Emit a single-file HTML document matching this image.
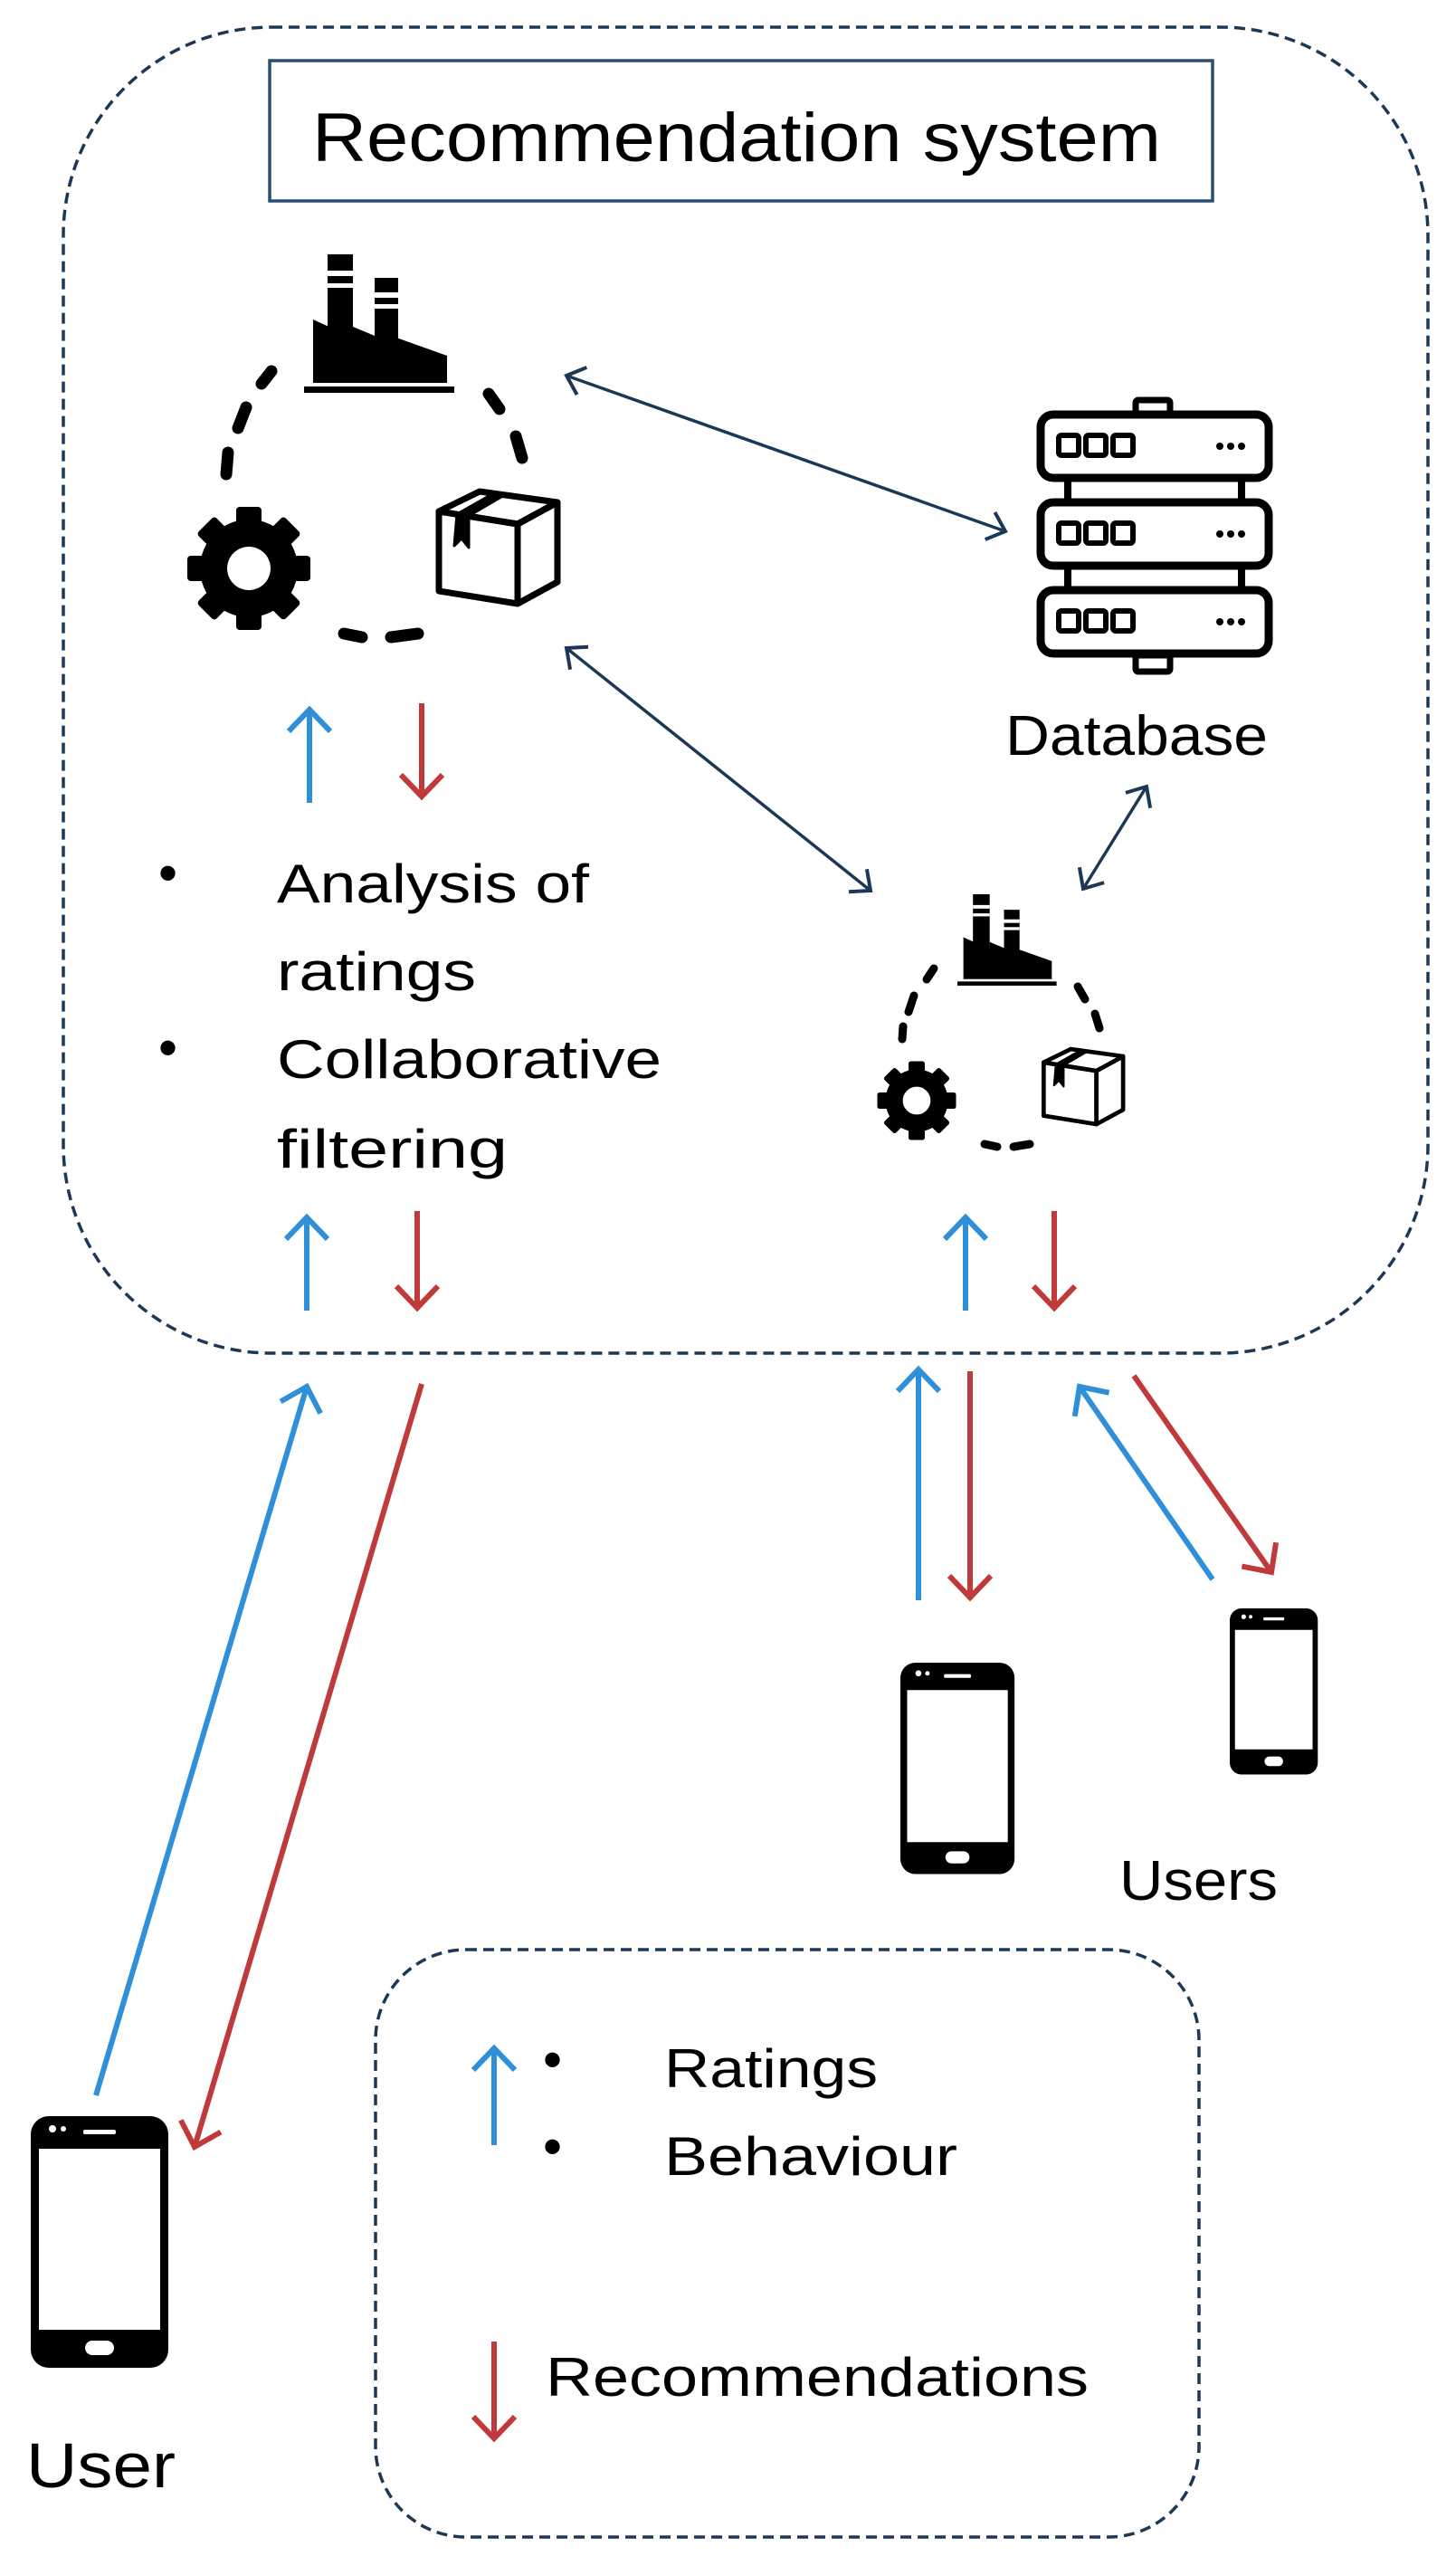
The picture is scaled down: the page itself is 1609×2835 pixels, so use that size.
<!DOCTYPE html>
<html><head><meta charset="utf-8"><style>
html,body{margin:0;padding:0;background:#fff;}
svg{display:block;}
text{font-family:"Liberation Sans",sans-serif;fill:#000;}
</style></head><body>
<svg width="1609" height="2835" viewBox="0 0 1609 2835" xmlns="http://www.w3.org/2000/svg">
<defs>
<marker id="hb" markerUnits="userSpaceOnUse" markerWidth="54" markerHeight="54" refX="26" refY="27" orient="auto-start-reverse" viewBox="0 0 54 54"><path d="M2,4 L26,27 L2,50" fill="none" stroke="#2f8fd8" stroke-width="6"/></marker>
<marker id="hr" markerUnits="userSpaceOnUse" markerWidth="54" markerHeight="54" refX="26" refY="27" orient="auto-start-reverse" viewBox="0 0 54 54"><path d="M2,4 L26,27 L2,50" fill="none" stroke="#c0393b" stroke-width="6"/></marker>
<marker id="hn" markerUnits="userSpaceOnUse" markerWidth="44" markerHeight="44" refX="22" refY="22" orient="auto-start-reverse" viewBox="0 0 44 44"><path d="M4,6 L22,22 L4,38" fill="none" stroke="#1c3857" stroke-width="4"/></marker>
<g id="gear">
  <g fill="#000">
    <rect x="-14" y="-68" width="28" height="136" rx="4"/>
    <rect x="-14" y="-68" width="28" height="136" rx="4" transform="rotate(45)"/>
    <rect x="-14" y="-68" width="28" height="136" rx="4" transform="rotate(90)"/>
    <rect x="-14" y="-68" width="28" height="136" rx="4" transform="rotate(135)"/>
    <circle r="54"/>
  </g>
  <circle r="24" fill="#fff"/>
</g>
<g id="factory">
  <rect x="20" y="0" width="28" height="120" fill="#000"/>
  <rect x="20" y="18" width="28" height="6" fill="#fff"/>
  <rect x="20" y="32" width="28" height="5" fill="#fff"/>
  <rect x="72" y="26" width="26" height="100" fill="#000"/>
  <rect x="72" y="42" width="26" height="6" fill="#fff"/>
  <rect x="72" y="55" width="26" height="5" fill="#fff"/>
  <polygon points="4,72 48,92 48,80 96,100 96,92 152,112 152,142 4,142" fill="#000"/>
  <rect x="-6" y="146" width="166" height="7" fill="#000"/>
</g>
<g id="box" fill="none" stroke="#000" stroke-width="7" stroke-linejoin="round">
  <polygon points="5,28 92,42 92,130 5,116"/>
  <polygon points="5,28 50,6 136,18 92,42"/>
  <polygon points="92,42 136,18 136,106 92,130"/>
  <polygon points="25,31 62,10 74,12 38,33 38,68 30,58 22,66" fill="#000" stroke-width="3"/>
</g>
<g id="phone">
  <rect x="0" y="0" width="152" height="278" rx="20" fill="#000"/>
  <rect x="9" y="36" width="134" height="200" fill="#fff"/>
  <rect x="58" y="15" width="36" height="5" rx="2" fill="#fff"/>
  <circle cx="24" cy="14" r="4" fill="#fff"/><circle cx="36" cy="14" r="3" fill="#fff"/>
  <rect x="60" y="248" width="32" height="16" rx="8" fill="#fff"/>
</g>
<g id="unit">
  <rect x="0" y="0" width="252" height="70" rx="14" fill="#fff" stroke="#000" stroke-width="9"/>
  <rect x="20" y="23" width="22" height="22" rx="3" fill="none" stroke="#000" stroke-width="6"/>
  <rect x="50" y="23" width="22" height="22" rx="3" fill="none" stroke="#000" stroke-width="6"/>
  <rect x="80" y="23" width="22" height="22" rx="3" fill="none" stroke="#000" stroke-width="6"/>
  <circle cx="198" cy="35" r="4"/><circle cx="210" cy="35" r="4"/><circle cx="222" cy="35" r="4"/>
</g>
</defs>

<rect x="70" y="30" width="1508" height="1465" rx="230" fill="none" stroke="#1c3857" stroke-width="3.5" stroke-dasharray="12,7"/>
<rect x="298" y="67" width="1042" height="155" fill="#fff" stroke="#2a4f73" stroke-width="3.5"/>
<text x="345" y="178" font-size="76" textLength="938" lengthAdjust="spacingAndGlyphs">Recommendation  system</text>

<use href="#factory" transform="translate(342,281)"/>
<use href="#gear" transform="translate(275,628) scale(1)"/>
<use href="#box" transform="translate(480,537)"/>
<g stroke="#000" stroke-width="13" stroke-linecap="round" fill="none">
  <line x1="300" y1="410" x2="289" y2="424"/>
  <line x1="272" y1="450" x2="263" y2="473"/>
  <line x1="252" y1="500" x2="250" y2="524"/>
  <line x1="540" y1="435" x2="552" y2="452"/>
  <line x1="570" y1="482" x2="577" y2="506"/>
  <line x1="380" y1="700" x2="400" y2="704"/>
  <line x1="432" y1="704" x2="462" y2="700"/>
</g>

<rect x="1255" y="442" width="38" height="18" rx="3" fill="none" stroke="#000" stroke-width="7"/>
<rect x="1255" y="724" width="38" height="18" rx="3" fill="none" stroke="#000" stroke-width="7"/>
<rect x="1180" y="520" width="192" height="40" fill="none" stroke="#000" stroke-width="8"/>
<rect x="1180" y="616" width="192" height="40" fill="none" stroke="#000" stroke-width="8"/>
<use href="#unit" transform="translate(1150,458)"/>
<use href="#unit" transform="translate(1150,555)"/>
<use href="#unit" transform="translate(1150,652)"/>
<text x="1111" y="834" font-size="62" textLength="290" lengthAdjust="spacingAndGlyphs">Database</text>

<line x1="626" y1="415" x2="1111" y2="587" stroke="#1c3857" stroke-width="3.5" marker-start="url(#hn)" marker-end="url(#hn)"/>
<line x1="626" y1="716" x2="962" y2="984" stroke="#1c3857" stroke-width="3.5" marker-start="url(#hn)" marker-end="url(#hn)"/>
<line x1="1267" y1="869" x2="1197" y2="982" stroke="#1c3857" stroke-width="3.5" marker-start="url(#hn)" marker-end="url(#hn)"/>

<use href="#factory" transform="translate(1062,988) scale(0.66)"/>
<use href="#gear" transform="translate(1013,1216) scale(0.64)"/>
<use href="#box" transform="translate(1150,1155) scale(0.67)"/>
<g stroke="#000" stroke-width="9" stroke-linecap="round" fill="none">
  <line x1="1032" y1="1070" x2="1024" y2="1082"/>
  <line x1="1010" y1="1100" x2="1004" y2="1118"/>
  <line x1="998" y1="1134" x2="997" y2="1148"/>
  <line x1="1191" y1="1090" x2="1199" y2="1104"/>
  <line x1="1210" y1="1120" x2="1215" y2="1136"/>
  <line x1="1088" y1="1264" x2="1102" y2="1267"/>
  <line x1="1120" y1="1267" x2="1138" y2="1264"/>
</g>

<text x="175" y="985" font-size="60">•</text>
<text x="306" y="997" font-size="60" textLength="345" lengthAdjust="spacingAndGlyphs">Analysis of</text>
<text x="306" y="1094" font-size="60" textLength="220" lengthAdjust="spacingAndGlyphs">ratings</text>
<text x="175" y="1178" font-size="60">•</text>
<text x="306" y="1191" font-size="60" textLength="425" lengthAdjust="spacingAndGlyphs">Collaborative</text>
<text x="306" y="1290" font-size="60" textLength="255" lengthAdjust="spacingAndGlyphs">filtering</text>

<g stroke-width="6" fill="none">
  <line x1="342" y1="887" x2="342" y2="784" stroke="#2f8fd8" marker-end="url(#hb)"/>
  <line x1="466" y1="777" x2="466" y2="880" stroke="#c0393b" marker-end="url(#hr)"/>
  <line x1="339" y1="1448" x2="339" y2="1345" stroke="#2f8fd8" marker-end="url(#hb)"/>
  <line x1="461" y1="1338" x2="461" y2="1445" stroke="#c0393b" marker-end="url(#hr)"/>
  <line x1="1067" y1="1448" x2="1067" y2="1345" stroke="#2f8fd8" marker-end="url(#hb)"/>
  <line x1="1165" y1="1338" x2="1165" y2="1445" stroke="#c0393b" marker-end="url(#hr)"/>
  <line x1="106" y1="2315" x2="339" y2="1532" stroke="#2f8fd8" marker-end="url(#hb)"/>
  <line x1="466" y1="1529" x2="215" y2="2372" stroke="#c0393b" marker-end="url(#hr)"/>
  <line x1="1015" y1="1768" x2="1015" y2="1513" stroke="#2f8fd8" marker-end="url(#hb)"/>
  <line x1="1072" y1="1515" x2="1072" y2="1765" stroke="#c0393b" marker-end="url(#hr)"/>
  <line x1="1340" y1="1745" x2="1193" y2="1532" stroke="#2f8fd8" marker-end="url(#hb)"/>
  <line x1="1253" y1="1520" x2="1405" y2="1737" stroke="#c0393b" marker-end="url(#hr)"/>
</g>

<use href="#phone" transform="translate(995,1837) scale(0.83,0.84)"/>
<use href="#phone" transform="translate(1359,1777) scale(0.64,0.66)"/>
<use href="#phone" transform="translate(34,2338)"/>
<text x="1237" y="2099" font-size="62" textLength="175" lengthAdjust="spacingAndGlyphs">Users</text>
<text x="29" y="2748" font-size="70" textLength="165" lengthAdjust="spacingAndGlyphs">User</text>

<rect x="415" y="2154" width="910" height="649" rx="100" fill="none" stroke="#1c3857" stroke-width="3.5" stroke-dasharray="12,7"/>
<line x1="546" y1="2370" x2="546" y2="2263" stroke="#2f8fd8" stroke-width="6" marker-end="url(#hb)"/>
<line x1="546" y1="2587" x2="546" y2="2694" stroke="#c0393b" stroke-width="6" marker-end="url(#hr)"/>
<text x="600" y="2296" font-size="60">•</text>
<text x="600" y="2392" font-size="60">•</text>
<text x="734" y="2306" font-size="60" textLength="236" lengthAdjust="spacingAndGlyphs">Ratings</text>
<text x="734" y="2403" font-size="60" textLength="324" lengthAdjust="spacingAndGlyphs">Behaviour</text>
<text x="603" y="2647" font-size="60" textLength="600" lengthAdjust="spacingAndGlyphs">Recommendations</text>
</svg>
</body></html>
